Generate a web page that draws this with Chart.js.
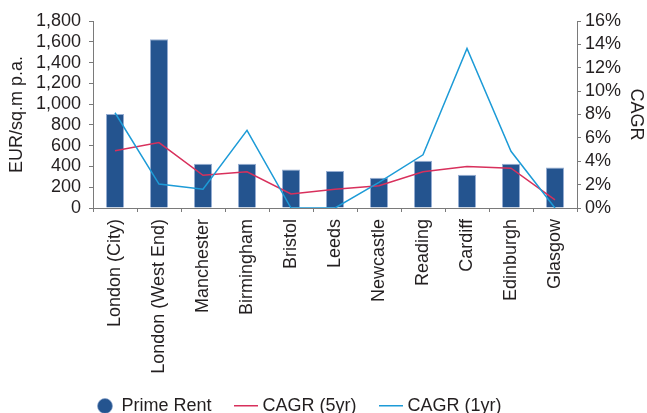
<!DOCTYPE html>
<html>
<head>
<meta charset="utf-8">
<script src="https://cdn.jsdelivr.net/npm/chart.js@4/dist/chart.umd.min.js"></script>
<style>
  html, body { margin: 0; padding: 0; background: #fff; }
  #wrap { width: 647px; height: 413px; }
</style>
</head>
<body>
<div id="wrap"><canvas id="c" width="647" height="413"></canvas></div>
<script>
// values
const categories = ['London (City)', 'London (West End)', 'Manchester', 'Birmingham', 'Bristol',
  'Leeds', 'Newcastle', 'Reading', 'Cardiff', 'Edinburgh', 'Glasgow'];
const primeRent = [905, 1625, 425, 425, 370, 355, 290, 455, 320, 425, 390];
const cagr5yr = [4.9, 5.6, 2.8, 3.1, 1.2, 1.6, 1.9, 3.1, 3.55, 3.4, 0.7];
const cagr1yr = [8.15, 2.05, 1.6, 6.65, 0, 0, 2.2, 4.55, 13.65, 4.85, 0];

const TEXT = '#231f20';
const AXIS = '#7a7a7a';
const BAR = '#24548f';
const RED = '#d8305c';
const BLUE = '#1d9bd7';

Chart.defaults.font.family = '"Liberation Sans", Arial, sans-serif';
Chart.defaults.font.size = 18;
Chart.defaults.color = TEXT;

// little line swatches for the legend
function lineSwatch(color) {
  const cv = document.createElement('canvas');
  cv.width = 24; cv.height = 2;
  const g = cv.getContext('2d');
  g.fillStyle = color;
  g.fillRect(0, 0, 24, 1.5);
  return cv;
}

// the legend in the reference sits left of centre and overlaps the label band
const shiftLegend = {
  id: 'shiftLegend',
  afterLayout(chart) {
    const l = chart.legend;
    if (!l) return;
    l.left -= 24; l.right -= 24;
    l.top -= 13; l.bottom -= 13;
  }
};

new Chart(document.getElementById('c'), {
  type: 'bar',
  data: {
    labels: categories,
    datasets: [
      {
        type: 'bar',
        label: 'Prime Rent',
        data: primeRent,
        yAxisID: 'y',
        backgroundColor: BAR,
        borderColor: 'rgba(140,165,205,0.9)',
        borderWidth: { top: 1, left: 1, right: 1, bottom: 0 },
        barPercentage: 0.41,
        categoryPercentage: 1,
        pointStyle: 'circle',
        order: 2
      },
      {
        type: 'line',
        label: 'CAGR (5yr)',
        data: cagr5yr,
        yAxisID: 'y1',
        borderColor: RED,
        backgroundColor: RED,
        borderWidth: 1.5,
        tension: 0,
        pointRadius: 0,
        pointStyle: lineSwatch(RED),
        order: 1
      },
      {
        type: 'line',
        label: 'CAGR (1yr)',
        data: cagr1yr,
        yAxisID: 'y1',
        borderColor: BLUE,
        backgroundColor: BLUE,
        borderWidth: 1.5,
        tension: 0,
        pointRadius: 0,
        pointStyle: lineSwatch(BLUE),
        order: 0
      }
    ]
  },
  options: {
    responsive: false,
    animation: false,
    devicePixelRatio: 1,
    layout: { padding: { top: 21, right: 0, bottom: -25, left: 0 } },
    plugins: {
      tooltip: { enabled: false },
      legend: {
        position: 'bottom',
        labels: {
          usePointStyle: true,
          boxWidth: 15,
          boxHeight: 10.6,
          padding: 27,
          color: TEXT,
          font: { size: 18 },
          sort: (a, b) => a.datasetIndex - b.datasetIndex
        }
      }
    },
    scales: {
      x: {
        offset: true,
        grid: { offset: true, drawOnChartArea: false, drawTicks: true, tickLength: 4, color: AXIS },
        border: { color: AXIS },
        ticks: { minRotation: 90, maxRotation: 90, autoSkip: false, padding: 7, color: TEXT, font: { size: 18 } },
        afterFit(s) { s.height = 175; }
      },
      y: {
        position: 'left',
        min: 0,
        max: 1800,
        grid: { drawOnChartArea: false, drawTicks: true, tickLength: 4, color: AXIS },
        border: { color: AXIS },
        ticks: {
          stepSize: 200,
          autoSkip: false,
          padding: 8,
          color: TEXT,
          font: { size: 18 },
          callback: v => v.toLocaleString('en-US')
        },
        title: { display: true, text: 'EUR/sq.m p.a.', color: TEXT, font: { size: 18 }, padding: 6 },
        afterFit(s) { s.width = 93; }
      },
      y1: {
        position: 'right',
        min: 0,
        max: 16,
        grid: { drawOnChartArea: false, drawTicks: true, tickLength: 4, color: AXIS },
        border: { color: AXIS },
        ticks: {
          stepSize: 2,
          autoSkip: false,
          padding: 4,
          color: TEXT,
          font: { size: 18 },
          callback: v => v + '%'
        },
        title: { display: true, text: 'CAGR', color: TEXT, font: { size: 18 }, padding: 0 },
        afterFit(s) { s.width = 70; }
      }
    }
  },
  plugins: [shiftLegend]
});
</script>
</body>
</html>
